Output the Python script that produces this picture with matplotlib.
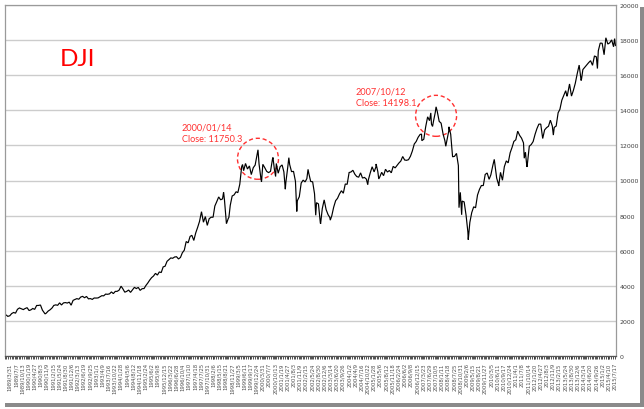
import matplotlib
matplotlib.use("Agg")
import matplotlib.pyplot as plt
import matplotlib.dates as mdates
import matplotlib.transforms as mtransforms
from matplotlib.patches import Ellipse, Rectangle
import pandas as pd

# ---- data: DJI closes (monthly + notable weekly extremes) ----
monthly_start = "1989-01-31"
monthly_closes = [
    2342, 2258, 2293, 2419, 2480, 2440, 2661, 2737, 2693, 2645, 2706, 2753,          # 1989
    2591, 2627, 2707, 2657, 2877, 2881, 2905, 2614, 2453, 2442, 2560, 2634,          # 1990
    2736, 2882, 2914, 2888, 3028, 2907, 3025, 3044, 3017, 3069, 2895, 3169,          # 1991
    3224, 3268, 3236, 3359, 3397, 3319, 3394, 3257, 3272, 3226, 3305, 3301,          # 1992
    3310, 3371, 3435, 3428, 3527, 3516, 3540, 3651, 3555, 3681, 3684, 3754,          # 1993
    3978, 3832, 3636, 3682, 3758, 3625, 3765, 3913, 3843, 3908, 3739, 3834,          # 1994
    3844, 4011, 4158, 4321, 4465, 4556, 4709, 4611, 4789, 4756, 5075, 5117,          # 1995
    5395, 5486, 5588, 5569, 5643, 5655, 5529, 5616, 5882, 6029, 6522, 6448,          # 1996
    6813, 6878, 6584, 7009, 7331, 7673, 8223, 7622, 7945, 7442, 7823, 7908,          # 1997
    7907, 8546, 8800, 9063, 8900, 8952, 8883, 7539, 7843, 8592, 9117, 9181,          # 1998
    9359, 9307, 9786, 10789, 10560, 10971, 10655, 10829, 10337, 10729, 10878, 11497, # 1999
    10940, 10128, 10922, 10734, 10522, 10448, 10522, 11215, 10651, 10971, 10415, 10788,  # 2000
    10887, 10495, 9879, 10735, 10912, 10502, 10523, 9950, 8848, 9075, 9852, 10022,   # 2001
    9920, 10106, 10404, 9946, 9925, 9243, 8737, 8664, 7592, 8397, 8896, 8342,        # 2002
    8054, 7891, 7992, 8480, 8850, 8985, 9234, 9416, 9275, 9801, 9782, 10454,         # 2003
    10488, 10584, 10358, 10226, 10188, 10435, 10140, 10174, 10080, 10027, 10428, 10783,  # 2004
    10490, 10766, 10504, 10193, 10467, 10275, 10641, 10482, 10569, 10440, 10806, 10718,  # 2005
    10865, 10993, 11109, 11367, 11168, 11150, 11186, 11381, 11679, 12081, 12222, 12463,  # 2006
    12622, 12269, 12354, 13063, 13628, 13409, 13212, 13358, 13896, 13930, 13372, 13265,  # 2007
    12650, 12266, 12263, 12820, 12638, 11350, 11378, 11544, 10851, 9325, 8829, 8776,     # 2008
    8001, 7063, 7609, 8168, 8500, 8447, 9172, 9496, 9712, 9713, 10345, 10428,        # 2009
    10067, 10325, 10857, 11009, 10137, 9774, 10466, 10015, 10788, 11118, 11006, 11578,   # 2010
    11892, 12226, 12320, 12811, 12570, 12414, 12143, 11614, 10913, 11955, 12046, 12218,  # 2011
    12633, 12952, 13212, 13214, 12393, 12880, 13009, 13091, 13437, 13096, 13026, 13104,  # 2012
    13861, 14054, 14579, 14840, 15116, 14910, 15500, 14810, 15130, 15546, 16086, 16577,  # 2013
    15699, 16322, 16458, 16581, 16717, 16827, 16563, 17098, 17043, 17391, 17828, 17823,  # 2014
    17165, 18133, 17776, 17841, 18011, 17620, 17690,                                  # 2015
]

extreme_dates = [
    "1989-01-06", "1990-10-12", "1998-07-17", "1998-10-09", "1999-05-14",
    "2000-01-14", "2000-03-10", "2000-09-08", "2000-10-20", "2001-03-23",
    "2001-05-18", "2001-09-21", "2002-03-19", "2002-07-19", "2002-10-04",
    "2003-03-07", "2004-10-22", "2005-03-04", "2005-04-15", "2007-02-23",
    "2007-07-20", "2007-08-17", "2007-10-12", "2008-03-14", "2008-05-02",
    "2008-10-10", "2008-11-21", "2009-03-06", "2010-04-23", "2010-07-02",
    "2011-04-29", "2011-08-12", "2011-09-23", "2012-11-16", "2013-06-21",
    "2014-02-07", "2014-10-17", "2015-07-17",
]
extreme_closes = [
    2194, 2398, 9338, 7899, 10913,
    11750.3, 9929, 11310, 10226, 9505,
    11301, 8236, 10635, 8019, 7528,
    7740, 9758, 10941, 10088, 12647,
    13851, 13079, 14198.1, 11951, 13058,
    8451, 8046, 6627, 11204, 9686,
    12810, 11269, 10771, 12588, 14799,
    15794, 16380, 18086,
]

y_ticks = list(range(0, 20001, 2000))
label_start, label_end = "1989-03-31", "2015-07-17"
ann_dates = ["2000-01-14", "2007-10-12"]
ann_values = [11750.3, 14198.1]
ann_texts = ["2000/01/14\nClose: 11750.3", "2007/10/12\nClose: 14198.1"]
title = "DJI"

# ---- build series ----
m_dates = pd.date_range(monthly_start, periods=len(monthly_closes), freq="ME")
s = pd.concat([pd.Series(monthly_closes, index=m_dates, dtype=float),
               pd.Series(extreme_closes, index=pd.to_datetime(extreme_dates), dtype=float)])
s = s.sort_index()

W, H = 644, 410
fig = plt.figure(figsize=(W / 100, H / 100), dpi=100)
fig.patch.set_facecolor("white")

L, R, T, B = 4.5, 615.5, 6, 357
ax = fig.add_axes([L / W, 1 - B / H, (R - L) / W, (B - T) / H])
ax.plot(s.index, s.values, color="black", lw=0.85, solid_joinstyle="miter")

ax.set_ylim(0, 20000)
ax.set_yticks(y_ticks)
ax.yaxis.tick_right()
ax.tick_params(axis="y", length=0, pad=3, labelsize=4.5, labelcolor="#404040")
ax.grid(axis="y", color="#cccccc", lw=1.0)
ax.set_axisbelow(True)

ax.set_xlim(pd.Timestamp("1989-01-06"), pd.Timestamp("2015-07-31"))
major = pd.date_range(label_start, label_end, freq="98D")
ax.set_xticks(major)
ax.set_xticklabels([f"{d.year}/{d.month}/{d.day}" for d in major],
                   rotation=90, fontsize=3.9, color="#505050")
minor = pd.date_range("1989-01-06", "2015-07-31", freq="28D")
ax.set_xticks(minor, minor=True)
ax.tick_params(axis="x", which="both", length=2.5, width=0.6, color="#333333", pad=2)

for side in ["left", "top", "right"]:
    ax.spines[side].set_color("#9a9a9a")
    ax.spines[side].set_linewidth(0.9)
ax.spines["bottom"].set_color("#555555")
ax.spines["bottom"].set_linewidth(0.9)

# annotations
red = "#ff3030"
text_offsets = [(-55, 5), (-58, 0)]
for d, v, txt, off in zip(ann_dates, ann_values, ann_texts, text_offsets):
    trans = fig.dpi_scale_trans + mtransforms.ScaledTranslation(
        mdates.date2num(pd.Timestamp(d)), v, ax.transData)
    circ = Ellipse((0, -0.09), 0.41, 0.41, transform=trans, fill=False,
                   edgecolor=red, lw=1.0, linestyle=(0, (3, 2)))
    ax.add_artist(circ)
    ax.annotate(txt, xy=(pd.Timestamp(d), v), xytext=off,
                textcoords="offset points", fontsize=6.6, color=red,
                family="Lato", ha="left", va="bottom", linespacing=1.35)

fig.text(60 / W, 1 - 60 / H, title, fontsize=17.5, color="#ff0000",
         family="Lato", ha="left", va="center")

# drop shadow of the chart frame
fig.patches.append(Rectangle((5 / W, 1 - 408 / H), 638 / W, 4 / H,
                             transform=fig.transFigure, color="#8a8a8a", lw=0))
fig.patches.append(Rectangle((640 / W, 1 - 408 / H), 3.5 / W, 400 / H,
                             transform=fig.transFigure, color="#8a8a8a", lw=0))

fig.savefig("out.png", dpi=100)
